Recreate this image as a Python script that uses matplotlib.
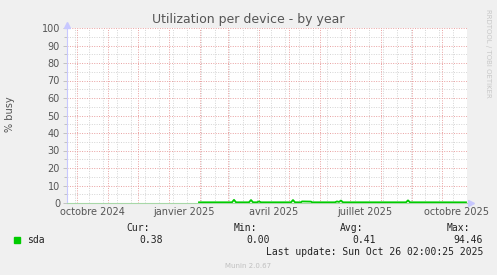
import matplotlib
matplotlib.use("Agg")
import matplotlib.pyplot as plt
import matplotlib.dates as mdates
import pandas as pd

# series: sda, % busy
dates = ["2025-01-31", "2025-03-05", "2025-03-07", "2025-03-09",
         "2025-03-22", "2025-03-24", "2025-03-26",
         "2025-03-30", "2025-04-01", "2025-04-03",
         "2025-05-03", "2025-05-05", "2025-05-07",
         "2025-05-13", "2025-05-14", "2025-05-23", "2025-05-24",
         "2025-06-16", "2025-06-18", "2025-06-20", "2025-06-22", "2025-06-24",
         "2025-08-26", "2025-08-28", "2025-08-30", "2025-10-25"]
sda = [0.4, 0.4, 1.8, 0.4,
       0.4, 1.7, 0.4,
       0.4, 0.9, 0.4,
       0.4, 1.7, 0.4,
       0.4, 0.9, 0.8, 0.4,
       0.4, 0.9, 0.6, 1.4, 0.4,
       0.4, 1.5, 0.4, 0.38]

tick_dates = ["2024-10-16", "2025-01-16", "2025-04-16", "2025-07-16", "2025-10-16"]
tick_labels = ["octobre 2024", "janvier 2025", "avril 2025", "juillet 2025", "octobre 2025"]

stat_names = ["Cur:", "Min:", "Avg:", "Max:"]
stat_values = ["0.38", "0.00", "0.41", "94.46"]

W, H = 497, 275
BG = "#f0f0f0"
fig = plt.figure(figsize=(W / 100, H / 100), dpi=100, facecolor=BG)
ax = fig.add_axes([67 / W, 1 - 203 / H, 400 / W, 175 / H])
ax.set_facecolor("white")

x = pd.to_datetime(dates)
ax.plot(x, sda, color="#00cc00", lw=1.3, zorder=5)

xmin, xmax = pd.Timestamp("2024-09-21"), pd.Timestamp("2025-10-26")
ax.set_xlim(xmin, xmax)
ax.set_ylim(0, 100)

# grid
major_x = pd.date_range("2024-10-01", "2025-10-01", freq="MS")
minor_x = pd.date_range("2024-09-29", "2025-10-26", freq="14D")
red = "#e9a0a0"
grey = "#d4d4d4"
dot = (0, (1, 1.5))
for d in minor_x:
    ax.axvline(d, color=grey, lw=0.7, ls=dot, zorder=1)
for v in range(5, 100, 10):
    ax.axhline(v, color=grey, lw=0.7, ls=dot, zorder=1)
for d in major_x:
    ax.axvline(d, color=red, lw=0.7, ls=dot, zorder=2)
for v in range(10, 101, 10):
    ax.axhline(v, color=red, lw=0.7, ls=dot, zorder=2)

ax.set_yticks(range(0, 101, 10))
ax.set_yticks(range(5, 100, 10), minor=True)
ax.set_xticks(pd.to_datetime(tick_dates))
ax.set_xticklabels(tick_labels)
ax.tick_params(axis="y", colors="#bbbbbb", labelcolor="#555555", labelsize=7, length=3, width=0.6, pad=2)
ax.tick_params(axis="y", which="minor", colors="#bbbbbb", length=2, width=0.6)
ax.tick_params(axis="x", length=0, labelcolor="#555555", labelsize=7, pad=3)

for s in ["top", "right"]:
    ax.spines[s].set_visible(False)
ax.spines["left"].set_color("#c8c8ff")
ax.spines["bottom"].set_color("#a8d8a8")
ax.spines["left"].set_linewidth(0.8)
ax.spines["bottom"].set_linewidth(0.8)
ax.plot([0], [1.02], marker="^", ms=4, color="#c8c8ff", transform=ax.transAxes, clip_on=False)
ax.plot([1.01], [0], marker=">", ms=4, color="#c8c8ff", transform=ax.transAxes, clip_on=False)

def fx(px):
    return px / W

def fy(py):
    return 1 - py / H

fig.text(fx(248), fy(19), "Utilization per device - by year", ha="center", va="center",
         fontsize=9, color="#555555")
fig.text(fx(10), fy(114), "% busy", rotation=90, ha="center", va="center", fontsize=7, color="#555555")
fig.text(fx(488), fy(53), "RRDTOOL / TOBI OETIKER", rotation=270, ha="center", va="center",
         fontsize=5, color="#c8c8c8")

mono = "DejaVu Sans Mono"
fig.patches.append(plt.Rectangle((fx(14), fy(243)), 6 / W, 6 / H, transform=fig.transFigure,
                                 color="#00cc00"))
fig.text(fx(27), fy(240), "sda", ha="left", va="center", fontsize=7, family=mono, color="#222222")
name_right = [150, 257, 363, 470]
val_right = [163, 270, 376, 483]
for n, nx, v, vx in zip(stat_names, name_right, stat_values, val_right):
    fig.text(fx(nx), fy(228), n, ha="right", va="center", fontsize=7, family=mono, color="#222222")
    fig.text(fx(vx), fy(240), v, ha="right", va="center", fontsize=7, family=mono, color="#222222")
fig.text(fx(483), fy(252), "Last update: Sun Oct 26 02:00:25 2025", ha="right", va="center",
         fontsize=7, family=mono, color="#222222")
fig.text(fx(248), fy(266), "Munin 2.0.67", ha="center", va="center", fontsize=5, color="#c0c0c0")

fig.savefig("out.png", dpi=100, facecolor=BG)
